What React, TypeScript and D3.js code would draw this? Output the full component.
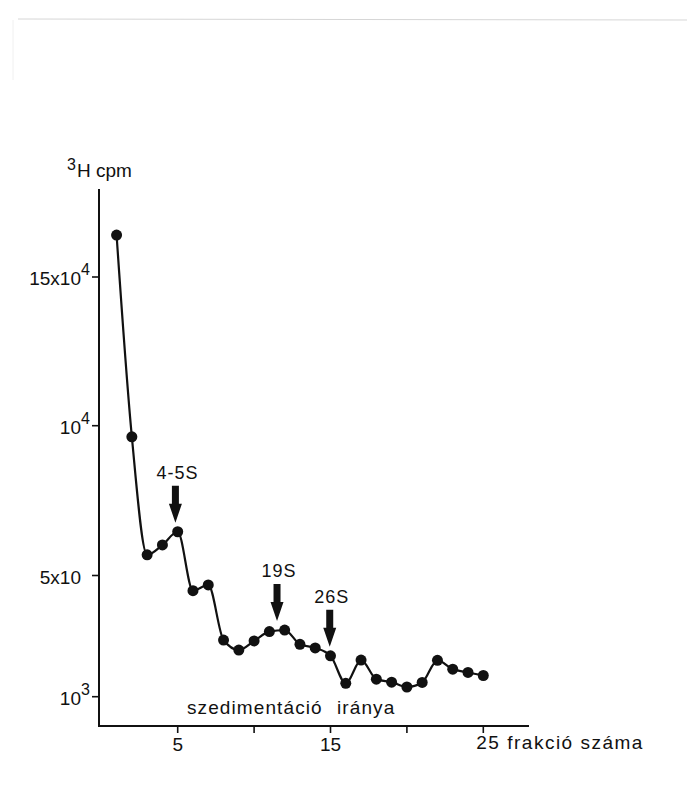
import React, { useEffect, useRef } from 'react';
import * as d3 from 'd3';

// fraction number (x) and 3H cpm (y)
const fractions = [1, 2, 3, 4, 5, 6, 7, 8, 9, 10, 11, 12, 13, 14, 15, 16, 17, 18, 19, 20, 21, 22, 23, 24, 25];
const cpm = [
  189500, 9630, 5690, 6020, 6460, 4500, 4690, 2870, 2540, 2840, 3150, 3200, 2730,
  2610, 2350, 1440, 2210, 1580, 1480, 1320, 1470, 2200, 1910, 1800, 1700,
];

const yTickValues = [150000, 10000, 5000, 1000];
const yTickBase = ['15x10', '10', '5x10', '10'];
const yTickSup = ['4', '4', '', '3'];

const xTickValues = [5, 10, 15, 20, 25];
const xTickLabels = ['5', '', '15', '', ''];

const markers = [
  { label: '4-5S', fraction: 4.85, value: 6460 },
  { label: '19S', fraction: 11.5, value: 3200 },
  { label: '26S', fraction: 14.95, value: 2350 },
];

const font = '"Liberation Sans", Arial, sans-serif';

const App = () => {
  const ref = useRef<SVGSVGElement>(null);

  useEffect(() => {
    const svg = d3.select(ref.current);
    svg.selectAll('*').remove();

    const x = d3.scaleLinear().domain([5, 25]).range([177.7, 483.3]);
    // the original axis is drawn by hand, so the label spacing is piecewise
    const y = d3
      .scaleLinear()
      .domain([1000, 5000, 10000, 150000])
      .range([696.7, 575.5, 425.7, 277]);

    const axisX = 99;
    const axisY = 726;

    // faint scan border
    svg.append('line')
      .attr('x1', 18).attr('x2', 687).attr('y1', 19).attr('y2', 20)
      .attr('stroke', '#d6d6d6').attr('stroke-width', 1);
    svg.append('line')
      .attr('x1', 13).attr('x2', 13).attr('y1', 20).attr('y2', 80)
      .attr('stroke', '#f0f0f0').attr('stroke-width', 1);

    const g = svg.append('g').attr('fill', '#111').attr('stroke', '#111');

    // axes
    g.append('line')
      .attr('x1', axisX).attr('x2', axisX).attr('y1', 189).attr('y2', axisY + 1)
      .attr('stroke-width', 2);
    g.append('line')
      .attr('x1', axisX - 1).attr('x2', 529).attr('y1', axisY).attr('y2', axisY)
      .attr('stroke-width', 2);

    // y ticks
    yTickValues.forEach((v, i) => {
      g.append('line')
        .attr('x1', axisX - 7).attr('x2', axisX).attr('y1', y(v)).attr('y2', y(v))
        .attr('stroke-width', 1.6);
      g.append('text')
        .attr('x', 81).attr('y', y(v) + 8)
        .attr('text-anchor', 'end')
        .attr('stroke', 'none')
        .attr('font-family', font).attr('font-size', 19)
        .text(yTickBase[i]);
      if (yTickSup[i]) {
        g.append('text')
          .attr('x', 81).attr('y', y(v) - 2)
          .attr('stroke', 'none')
          .attr('font-family', font).attr('font-size', 16)
          .text(yTickSup[i]);
      }
    });

    // x ticks
    xTickValues.forEach((v, i) => {
      g.append('line')
        .attr('x1', x(v)).attr('x2', x(v)).attr('y1', axisY).attr('y2', axisY + 7)
        .attr('stroke-width', 1.6);
      if (xTickLabels[i]) {
        g.append('text')
          .attr('x', x(v)).attr('y', 751)
          .attr('text-anchor', 'middle')
          .attr('stroke', 'none')
          .attr('font-family', font).attr('font-size', 19)
          .text(xTickLabels[i]);
      }
    });

    // axis titles
    g.append('text')
      .attr('x', x(25) - 7).attr('y', 749)
      .attr('stroke', 'none')
      .attr('font-family', font).attr('font-size', 19).attr('letter-spacing', 1.5)
      .text('25 frakció száma');

    const yTitle = g.append('text')
      .attr('x', 67).attr('y', 177)
      .attr('stroke', 'none')
      .attr('font-family', font).attr('font-size', 19);
    yTitle.append('tspan').attr('font-size', 16).attr('dy', -7).text('3');
    yTitle.append('tspan').attr('dy', 7).attr('dx', 1).text('H cpm');

    g.append('text')
      .attr('x', 187).attr('y', 714)
      .attr('stroke', 'none')
      .attr('font-family', font).attr('font-size', 19).attr('letter-spacing', 1.1)
      .text('szedimentáció');
    g.append('text')
      .attr('x', 337).attr('y', 714)
      .attr('stroke', 'none')
      .attr('font-family', font).attr('font-size', 19).attr('letter-spacing', 1.1)
      .text('iránya');

    // curve
    const points = fractions.map((f, i) => [x(f), y(cpm[i])] as [number, number]);
    const line = d3.line().curve(d3.curveMonotoneX);
    g.append('path')
      .attr('d', line(points))
      .attr('fill', 'none')
      .attr('stroke-width', 2.2);

    g.selectAll('circle.pt')
      .data(points)
      .enter()
      .append('circle')
      .attr('class', 'pt')
      .attr('cx', (d) => d[0])
      .attr('cy', (d) => d[1])
      .attr('r', 5.5)
      .attr('stroke', 'none');

    // sedimentation markers
    markers.forEach((m) => {
      const mx = x(m.fraction);
      const tip = y(m.value) - 9;
      const top = tip - 37;
      g.append('path')
        .attr('d', `M${mx - 3.5},${top} L${mx + 3.5},${top} L${mx + 3.5},${tip - 19} L${mx + 6.5},${tip - 19} L${mx},${tip} L${mx - 6.5},${tip - 19} L${mx - 3.5},${tip - 19} Z`)
        .attr('stroke', 'none');
      g.append('text')
        .attr('x', mx + 2).attr('y', top - 7)
        .attr('text-anchor', 'middle')
        .attr('stroke', 'none')
        .attr('font-family', font).attr('font-size', 18).attr('letter-spacing', 1)
        .text(m.label);
    });
  }, []);

  return (
    <svg
      ref={ref}
      width={687}
      height={793}
      style={{ position: 'absolute', left: 0, top: 0, background: '#fff' }}
    />
  );
};

export default App;
